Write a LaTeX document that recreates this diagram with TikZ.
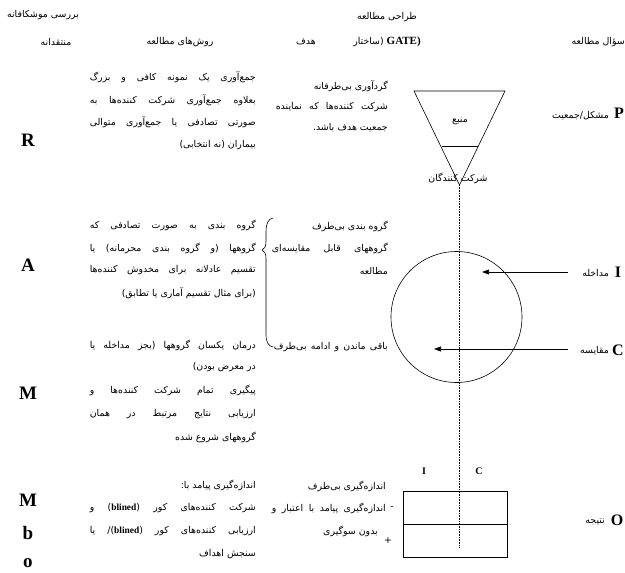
\documentclass[tikz,border=0pt]{standalone}
\usepackage{fontspec}
\setmainfont{Liberation Serif}
\newfontfamily\fafont[Script=Arabic]{DejaVu Sans}
\TeXXeTstate=1
\usetikzlibrary{arrows.meta}
\newcommand{\jl}[2]{\makebox[#1][s]{#2}}
\newcommand{\bl}{\beginL{\rmfamily\bfseries blined}\endL}
\begin{document}
\begin{tikzpicture}[x=1pt,y=-1pt,
  fa/.style={font=\fafont\fontsize{9.4}{10}\selectfont, inner sep=0pt},
  big/.style={font=\bfseries\fontsize{19}{19}\selectfont, inner sep=0pt},
  mid/.style={font=\bfseries\fontsize{16}{16}\selectfont, inner sep=0pt},
  sml/.style={font=\bfseries\fontsize{10}{10}\selectfont, inner sep=0pt},
  shape line/.style={line width=0.6pt},
  guide/.style={densely dotted, line width=0.6pt},
  arr/.style={line width=0.6pt, -{Triangle[length=7pt,width=5pt]}}]
\useasboundingbox (0,0) rectangle (625,573);
% header
\node[fa] (hd1) at (43,15) {\beginR بررسی موشکافانه\endR};
\node[fa] (hd2) at (56,42) {\beginR منتقدانه\endR};
\node[fa] (hd3) at (180,42) {\beginR روش‌های مطالعه\endR};
\node[fa] (hd4) at (306,42) {\beginR هدف\endR};
\node[fa] (hd5) at (387,17) {\beginR طراحی مطالعه\endR};
\node[fa] (hd6) at (387,42) {(ساختار {\rmfamily\bfseries\fontsize{11}{11}\selectfont GATE)}};
\node[fa, anchor=east] (hd7) at (625,42) {\beginR سؤال مطالعه\endR};
% left letters
\node[big] (lR) at (28,140) {R};
\node[big] (lA) at (28,265) {A};
\node[big] (lM1) at (28,393) {M};
\node[big] (lM2) at (28,500) {M};
\node[big] (lb) at (28,533) {b};
\node[big] (lo) at (28,563) {o};
% methods column
\node[fa, anchor=east] (m1a) at (256,77) {\jl{166pt}{\beginR جمع‌آوری یک نمونه کافی و بزرگ\endR}};
\node[fa, anchor=east] (m1b) at (256,100) {\jl{166pt}{\beginR بعلاوه جمع‌آوری شرکت کننده‌ها به\endR}};
\node[fa, anchor=east] (m1c) at (256,122) {\jl{166pt}{\beginR صورتی تصادفی یا جمع‌آوری متوالی\endR}};
\node[fa, anchor=east] (m1d) at (256,145) {\beginR بیماران (نه انتخابی)\endR};
\node[fa, anchor=east] (m2a) at (256,225) {\jl{166pt}{\beginR گروه بندی به صورت تصادفی که\endR}};
\node[fa, anchor=east] (m2b) at (256,248) {\jl{166pt}{\beginR گروهها (و گروه بندی محرمانه) یا\endR}};
\node[fa, anchor=east] (m2c) at (256,270) {\jl{166pt}{\beginR تقسیم عادلانه برای مخدوش کننده‌ها\endR}};
\node[fa, anchor=east] (m2d) at (256,293) {\beginR (برای مثال تقسیم آماری یا تطابق)\endR};
\node[fa, anchor=east] (m3a) at (256,345) {\jl{166pt}{\beginR درمان یکسان گروهها (بجز مداخله یا\endR}};
\node[fa, anchor=east] (m3b) at (256,367) {\beginR در معرض بودن)\endR};
\node[fa, anchor=east] (m3c) at (256,390) {\jl{166pt}{\beginR پیگیری تمام شرکت کننده‌ها و\endR}};
\node[fa, anchor=east] (m3d) at (256,414) {\jl{166pt}{\beginR ارزیابی نتایج مرتبط در همان\endR}};
\node[fa, anchor=east] (m3e) at (256,437) {\beginR گروههای شروع شده\endR};
\node[fa, anchor=east] (m4a) at (256,485) {\beginR اندازه‌گیری پیامد با:\endR};
\node[fa, anchor=east] (m4b) at (256,508) {\jl{166pt}{\beginR شرکت کننده‌های کور (\bl) و\endR}};
\node[fa, anchor=east] (m4c) at (256,531) {\jl{166pt}{\beginR ارزیابی کننده‌های کور (\bl)/ یا\endR}};
\node[fa, anchor=east] (m4d) at (256,554) {\beginR سنجش اهداف\endR};
% aim column
\node[fa, anchor=east] (a1a) at (388,86) {\beginR گردآوری بی‌طرفانه\endR};
\node[fa, anchor=east] (a1b) at (388,107) {\jl{112pt}{\beginR شرکت کننده‌ها که نماینده\endR}};
\node[fa, anchor=east] (a1c) at (388,128) {\beginR جمعیت هدف باشد.\endR};
\node[fa, anchor=east] (a2a) at (388,226) {\beginR گروه بندی بی‌طرف\endR};
\node[fa, anchor=east] (a2b) at (388,248) {\jl{116pt}{\beginR گروههای قابل مقایسه‌ای\endR}};
\node[fa, anchor=east] (a2c) at (388,271) {\beginR مطالعه\endR};
\node[fa, anchor=east] (a3) at (388,347) {\jl{114pt}{\beginR باقی ماندن و ادامه بی‌طرف\endR}};
\node[fa, anchor=east] (a4a) at (386,486) {\beginR اندازه‌گیری بی‌طرف\endR};
\node[fa, anchor=east] (a4b) at (386,508) {\jl{114pt}{\beginR اندازه‌گیری پیامد با اعتبار و\endR}};
\node[fa] (a4m) at (392,508) {-};
\node[fa, anchor=east] (a4c) at (378,531) {\beginR بدون سوگیری\endR};
\node[fa] (a4p) at (388,541) {+};
% brace
\draw[shape line] (273,218) .. controls (268,219) and (266,224) .. (266,232)
  -- (266,242) .. controls (266,247) and (264,249) .. (262,250)
  .. controls (264,251) and (266,253) .. (266,258)
  -- (266,334) .. controls (266,342) and (268,346) .. (273,347);
% funnel
\coordinate (fTL) at (414,91);
\coordinate (fTR) at (505,91);
\coordinate (fAp) at (459.5,185);
\coordinate (fML) at (441.5,146);
\coordinate (fMR) at (477.5,146);
\draw[shape line] (fTL) -- (fTR) -- (fAp) -- cycle;
\draw[shape line] (fML) -- (fMR);
\node[fa] (src) at (460,121) {\beginR منبع\endR};
\node[fa] (part) at (458,178) {\beginR شرکت کنندگان\endR};
% circle
\node[draw, shape line, circle, minimum size=131pt, inner sep=0pt] (grp) at (456.5,317) {};
% box
\node[draw, shape line, minimum width=104pt, minimum height=33pt, inner sep=0pt, anchor=north west] (boxT) at (403,491) {};
\node[draw, shape line, minimum width=104pt, minimum height=33pt, inner sep=0pt, anchor=north west] (boxB) at (403,524) {};
\node[sml] (bI) at (424,471) {I};
\node[sml] (bC) at (479,471) {C};
% dotted guide
\coordinate (gEnd) at (459.5,548);
\draw[guide] (fAp) -- (gEnd);
% right column
\node[mid] (rP) at (619,113) {P};
\node[fa, anchor=east] (rPt) at (609,116) {\beginR مشکل/جمعیت\endR};
\node[mid] (rI) at (618,272) {I};
\node[fa, anchor=east] (rIt) at (609,273) {\beginR مداخله\endR};
\node[mid] (rC) at (618,350) {C};
\node[fa, anchor=east] (rCt) at (609,351) {\beginR مقایسه\endR};
\node[mid] (rO) at (617,520) {O};
\node[fa, anchor=east] (rOt) at (605,522) {\beginR نتیجه\endR};
% arrows
\coordinate (sI) at (568,272);
\coordinate (tI) at (482,272);
\coordinate (sC) at (568,349);
\coordinate (tC) at (434,349);
\draw[arr] (sI) -- (tI);
\draw[arr] (sC) -- (tC);
\end{tikzpicture}
\end{document}
